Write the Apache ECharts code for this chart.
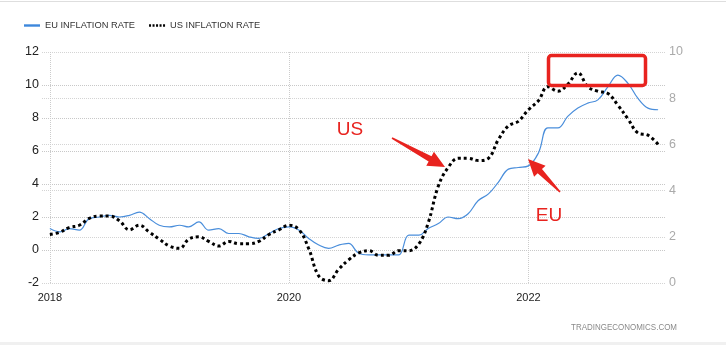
<!DOCTYPE html>
<html>
<head>
<meta charset="utf-8">
<script src="https://cdn.jsdelivr.net/npm/echarts@6/dist/echarts.min.js"></script>
<style>
  html, body { margin: 0; padding: 0; background: #ffffff; }
  #chart { width: 726px; height: 345px; }
</style>
</head>
<body>
<div id="chart"></div>
<script>
// Monthly observations, Jan 2018 – Feb 2023
const months = [
  '2018-01-01','2018-02-01','2018-03-01','2018-04-01','2018-05-01','2018-06-01','2018-07-01','2018-08-01','2018-09-01','2018-10-01','2018-11-01','2018-12-01',
  '2019-01-01','2019-02-01','2019-03-01','2019-04-01','2019-05-01','2019-06-01','2019-07-01','2019-08-01','2019-09-01','2019-10-01','2019-11-01','2019-12-01',
  '2020-01-01','2020-02-01','2020-03-01','2020-04-01','2020-05-01','2020-06-01','2020-07-01','2020-08-01','2020-09-01','2020-10-01','2020-11-01','2020-12-01',
  '2021-01-01','2021-02-01','2021-03-01','2021-04-01','2021-05-01','2021-06-01','2021-07-01','2021-08-01','2021-09-01','2021-10-01','2021-11-01','2021-12-01',
  '2022-01-01','2022-02-01','2022-03-01','2022-04-01','2022-05-01','2022-06-01','2022-07-01','2022-08-01','2022-09-01','2022-10-01','2022-11-01','2022-12-01',
  '2023-01-01','2023-02-01'
];

// Euro area annual inflation, % (left axis)
const euRate = [
  1.3, 1.1, 1.3, 1.2, 1.9, 2.0, 2.1, 2.0, 2.1, 2.3, 1.9, 1.5,
  1.4, 1.5, 1.4, 1.7, 1.2, 1.3, 1.0, 1.0, 0.8, 0.7, 1.0, 1.3,
  1.4, 1.2, 0.7, 0.3, 0.1, 0.3, 0.4, -0.2, -0.3, -0.3, -0.3, -0.3,
  0.9, 0.9, 1.3, 1.6, 2.0, 1.9, 2.2, 3.0, 3.4, 4.1, 4.9, 5.0,
  5.1, 5.9, 7.4, 7.4, 8.1, 8.6, 8.9, 9.1, 9.9, 10.6, 10.1, 9.2,
  8.6, 8.5
];

// US annual inflation, % (right axis)
const usRate = [
  2.1, 2.2, 2.4, 2.5, 2.8, 2.9, 2.9, 2.7, 2.3, 2.5, 2.2, 1.9,
  1.6, 1.5, 1.9, 2.0, 1.8, 1.6, 1.8, 1.7, 1.7, 1.8, 2.1, 2.3,
  2.5, 2.3, 1.5, 0.3, 0.1, 0.6, 1.0, 1.3, 1.4, 1.2, 1.2, 1.4,
  1.4, 1.7, 2.6, 4.2, 5.0, 5.4, 5.4, 5.3, 5.4, 6.2, 6.8, 7.0,
  7.5, 7.9, 8.5, 8.3, 8.6, 9.1, 8.5, 8.3, 8.2, 7.7, 7.1, 6.5,
  6.4, 6.0
];

// Year marks on the time axis
const yearTicks = ['2018-01-01', '2020-01-01', '2022-01-01'];

const seriesNames = ['EU INFLATION RATE', 'US INFLATION RATE'];

const FONT = '"Liberation Sans", Arial, sans-serif';
const RED = '#e8231f';

const toTime = s => new Date(s + 'T00:00:00').getTime();
const yearTickTimes = yearTicks.map(toTime);

// Legend glyphs: solid bar and a row of square dots
const ICON_SOLID = 'path://M0,0H16V2.4H0Z';
const ICON_DOTS = 'path://M0,0h2v2.4h-2z M3.5,0h2v2.4h-2z M7,0h2v2.4h-2z M10.5,0h2v2.4h-2z M14,0h2v2.4h-2z';

// Arrow outline: tapered shaft plus a triangular head, tail -> tip
function arrowShape(tail, tip) {
  const dx = tip[0] - tail[0], dy = tip[1] - tail[1];
  const len = Math.sqrt(dx * dx + dy * dy);
  const ux = dx / len, uy = dy / len;
  const nx = -uy, ny = ux;
  const headLen = 17, headHalf = 8, shaftTail = 0.8, shaftHead = 3;
  const bx = tip[0] - ux * headLen, by = tip[1] - uy * headLen;
  return [
    [tail[0] + nx * shaftTail, tail[1] + ny * shaftTail],
    [bx + nx * shaftHead, by + ny * shaftHead],
    [bx + nx * headHalf, by + ny * headHalf],
    [tip[0], tip[1]],
    [bx - nx * headHalf, by - ny * headHalf],
    [bx - nx * shaftHead, by - ny * shaftHead],
    [tail[0] - nx * shaftTail, tail[1] - ny * shaftTail]
  ];
}

const chart = echarts.init(document.getElementById('chart'), null, { renderer: 'canvas' });

chart.setOption({
  animation: false,
  backgroundColor: '#ffffff',
  textStyle: { fontFamily: FONT },
  legend: {
    left: 19,
    top: 16,
    itemWidth: 16,
    itemHeight: 2.4,
    itemGap: 14,
    symbolKeepAspect: false,
    textStyle: { fontSize: 9.3, color: '#333333', fontFamily: FONT },
    data: [
      { name: seriesNames[0], icon: ICON_SOLID, itemStyle: { color: '#3d87dc' } },
      { name: seriesNames[1], icon: ICON_DOTS, itemStyle: { color: '#000000' } }
    ]
  },
  grid: { left: 42, right: 61, top: 52, bottom: 62 },
  xAxis: {
    type: 'value',
    min: toTime('2017-12-08'),
    max: toTime('2023-02-22'),
    axisLine: { show: false },
    axisTick: {
      show: true,
      length: 5,
      lineStyle: { color: '#cccccc', type: 'dotted' },
      customValues: yearTickTimes
    },
    axisLabel: {
      customValues: yearTickTimes,
      formatter: v => String(new Date(v).getFullYear()),
      color: '#222222',
      fontSize: 11,
      margin: 9,
      fontFamily: FONT
    },
    splitLine: { show: false }
  },
  yAxis: [
    {
      type: 'value',
      min: -2,
      max: 12,
      interval: 2,
      position: 'left',
      axisLine: { show: false },
      axisTick: { show: false },
      axisLabel: { color: '#222222', fontSize: 12.5, margin: 3, fontFamily: FONT },
      splitLine: { show: true, lineStyle: { color: '#c8c8c8', type: 'dotted', width: 1 } }
    },
    {
      type: 'value',
      min: 0,
      max: 10,
      interval: 2,
      position: 'right',
      axisLine: { show: false },
      axisTick: { show: false },
      axisLabel: { color: '#aaaaaa', fontSize: 12.5, margin: 4, fontFamily: FONT },
      splitLine: { show: true, lineStyle: { color: '#d4d4d4', type: 'dotted', width: 1 } }
    }
  ],
  series: [
    {
      name: seriesNames[0],
      type: 'line',
      yAxisIndex: 0,
      smooth: 0.4,
      symbol: 'none',
      z: 3,
      lineStyle: { color: '#4a8edb', width: 1.2 },
      itemStyle: { color: '#4a8edb' },
      data: months.map((m, i) => [toTime(m), euRate[i]]),
      // vertical year grid lines
      markLine: {
        silent: true,
        symbol: 'none',
        z: 1,
        label: { show: false },
        lineStyle: { color: '#cccccc', type: 'dotted', width: 1 },
        data: yearTickTimes.map(t => ({ xAxis: t }))
      }
    },
    {
      name: seriesNames[1],
      type: 'line',
      yAxisIndex: 1,
      smooth: 0.4,
      symbol: 'none',
      z: 4,
      lineStyle: { color: '#000000', width: 3, type: [3, 3] },
      itemStyle: { color: '#000000' },
      data: months.map((m, i) => [toTime(m), usRate[i]])
    }
  ],
  graphic: [
    // frame lines
    { type: 'rect', z: 0, shape: { x: 0, y: 1, width: 726, height: 1 }, style: { fill: '#dedede' } },
    { type: 'rect', z: 0, shape: { x: 0, y: 342, width: 726, height: 3 }, style: { fill: '#f0f0f0' } },
    // source credit
    {
      type: 'text', z: 10, x: 677, y: 327, scaleX: 0.84,
      style: { text: 'TRADINGECONOMICS.COM', fill: '#8a8a8a', font: '9.5px ' + FONT, align: 'right', verticalAlign: 'middle' }
    },
    // callouts
    {
      type: 'text', z: 20, x: 350, y: 130,
      style: { text: 'US', fill: RED, font: '19px ' + FONT, align: 'center', verticalAlign: 'middle' }
    },
    {
      type: 'text', z: 20, x: 549, y: 216,
      style: { text: 'EU', fill: RED, font: '19px ' + FONT, align: 'center', verticalAlign: 'middle' }
    },
    {
      type: 'polygon', z: 20,
      shape: { points: arrowShape([392, 138], [445, 167]) },
      style: { fill: RED }
    },
    {
      type: 'polygon', z: 20,
      shape: { points: arrowShape([560, 192], [528, 159]) },
      style: { fill: RED }
    },
    {
      type: 'rect', z: 20,
      shape: { x: 548.5, y: 55.5, width: 97, height: 30, r: 3 },
      style: { fill: 'none', stroke: RED, lineWidth: 3.5 }
    }
  ]
});
</script>
</body>
</html>
